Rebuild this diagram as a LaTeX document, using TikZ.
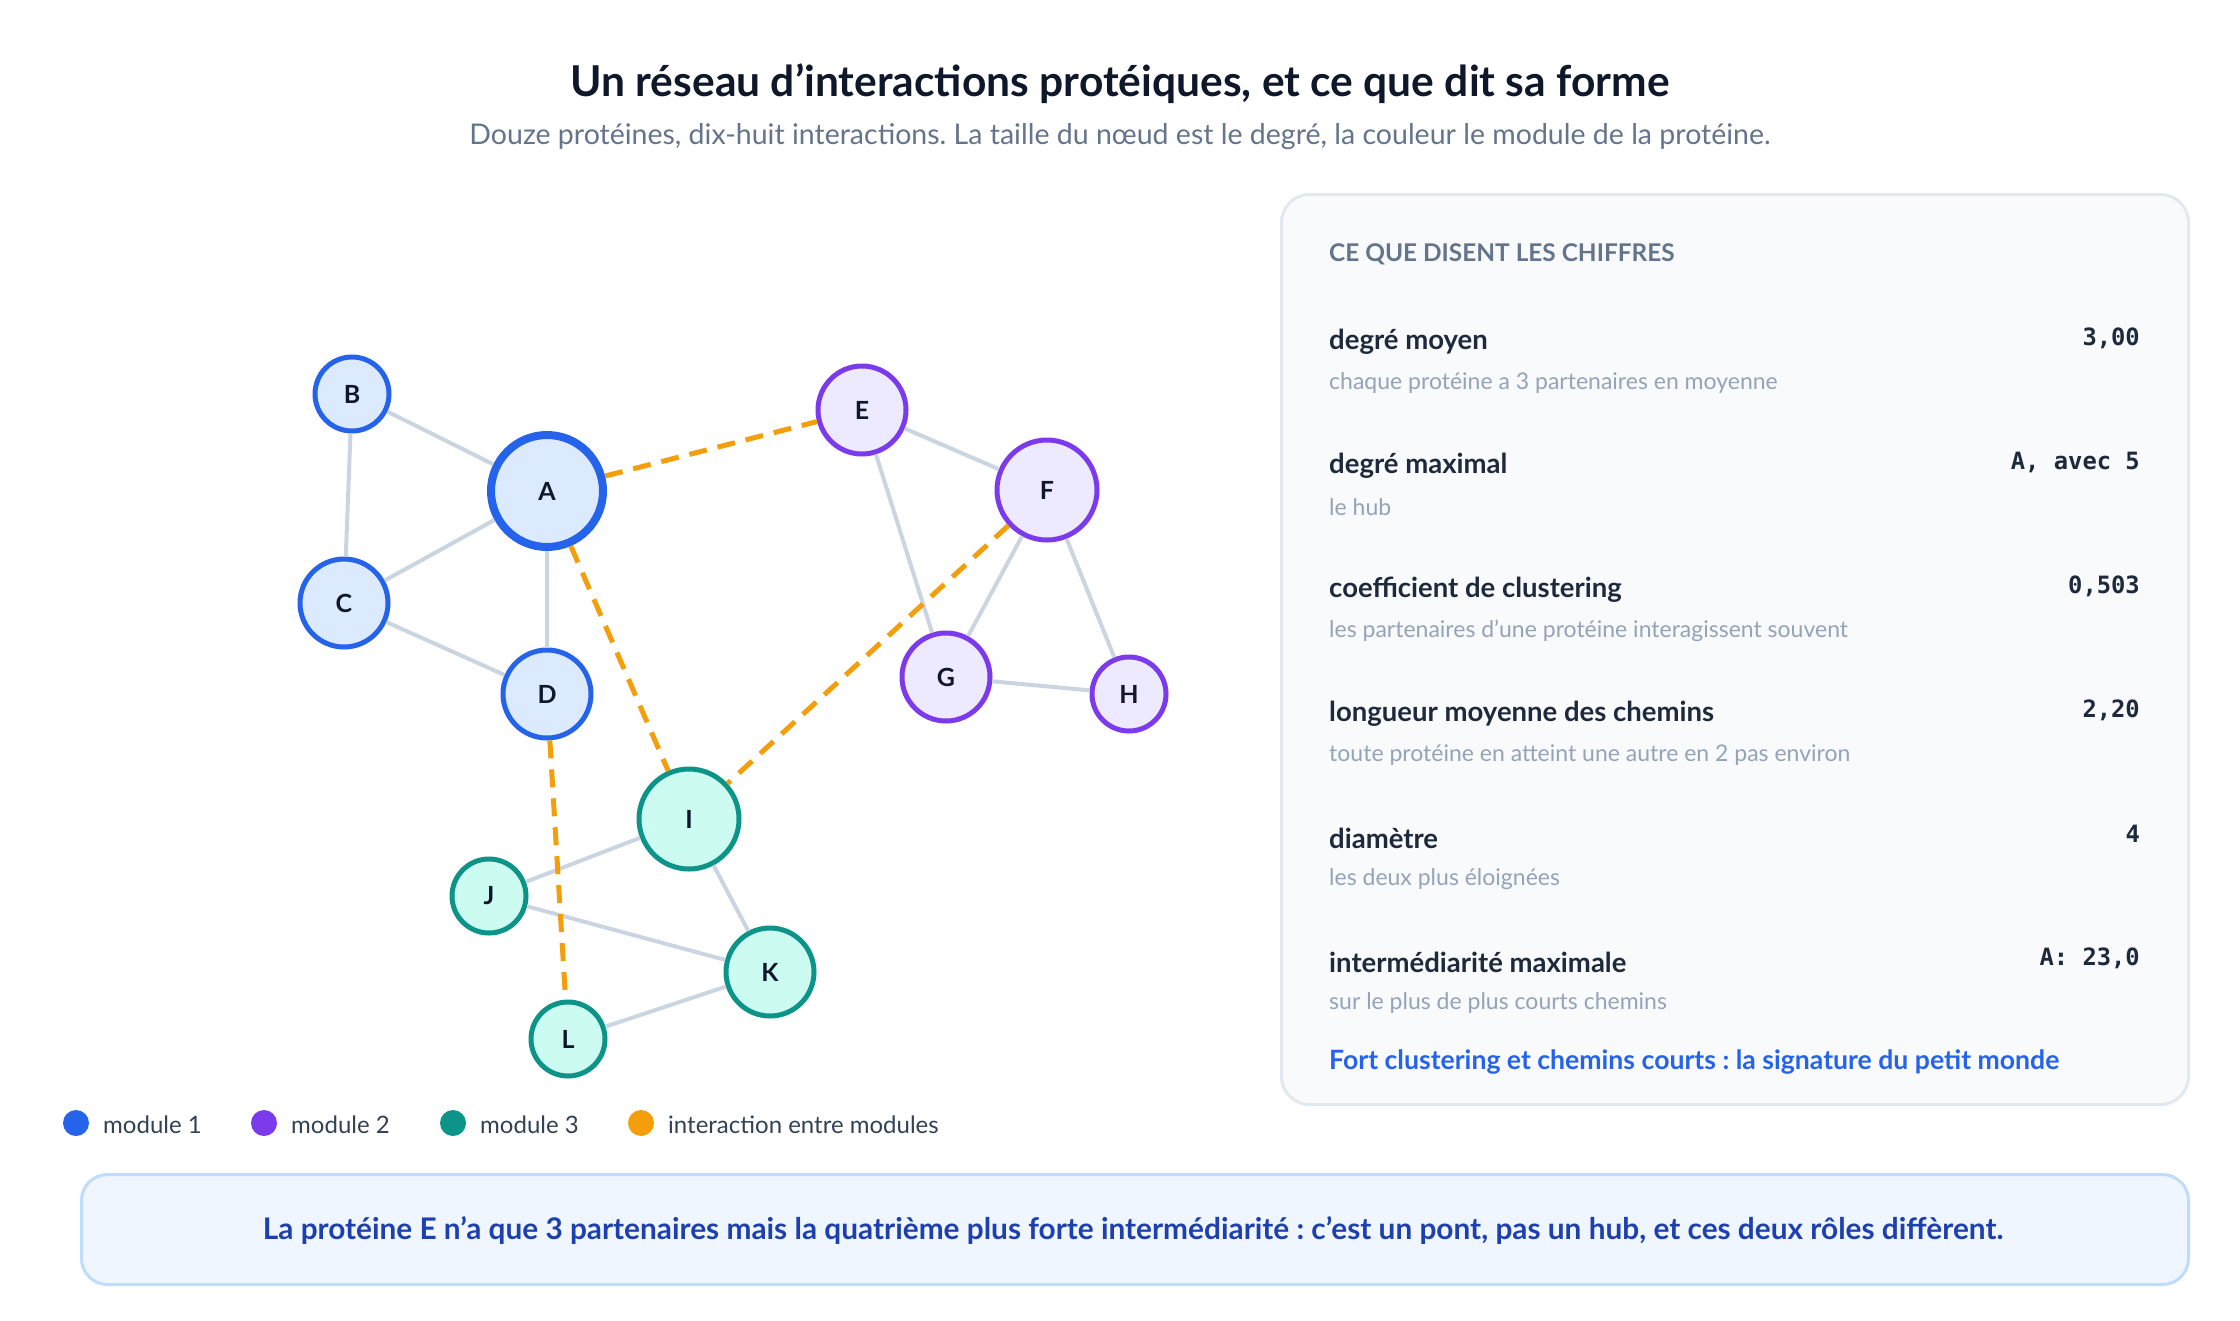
\documentclass[tikz,border=0pt]{standalone}
\usepackage{fontspec}
\setmainfont{Lato}
\newfontfamily\valfont{DejaVu Sans Mono}
\frenchspacing
\definecolor{titlec}{HTML}{0F172A}
\definecolor{subc}{HTML}{64748B}
\definecolor{mutec}{HTML}{94A3B8}
\definecolor{labc}{HTML}{1E293B}
\definecolor{legc}{HTML}{334155}
\definecolor{blueS}{HTML}{2563EB}
\definecolor{blueF}{HTML}{DBEAFE}
\definecolor{purS}{HTML}{7C3AED}
\definecolor{purF}{HTML}{EDE9FE}
\definecolor{tealS}{HTML}{0D9488}
\definecolor{tealF}{HTML}{CCFBF1}
\definecolor{orangeC}{HTML}{F59E0B}
\definecolor{edgeC}{HTML}{CBD5E1}
\definecolor{panelF}{HTML}{F8FAFC}
\definecolor{panelS}{HTML}{E2E8F0}
\definecolor{noteF}{HTML}{EFF6FF}
\definecolor{noteS}{HTML}{BFDBFE}
\definecolor{noteT}{HTML}{1E40AF}
\tikzset{
  prot/.style={circle, line width=5pt, inner sep=0pt, text=titlec,
    font=\fontsize{25}{29}\selectfont\bfseries},
  modA/.style={prot, draw=blueS, fill=blueF},
  modB/.style={prot, draw=purS, fill=purF},
  modC/.style={prot, draw=tealS, fill=tealF},
  intra/.style={draw=edgeC, line width=4pt},
  inter/.style={draw=orangeC, line width=5pt, dash pattern=on 18pt off 11pt},
  lab/.style={anchor=west, inner sep=0pt, text=labc, font=\fontsize{27.5}{32}\selectfont\bfseries},
  subl/.style={anchor=west, inner sep=0pt, text=mutec, font=\fontsize{23}{27}\selectfont},
  val/.style={anchor=east, inner sep=0pt, text=labc, font=\fontsize{23.8}{28}\selectfont\valfont\bfseries},
  legdot/.style={circle, inner sep=0pt, minimum size=26pt},
  legtxt/.style={anchor=west, inner sep=0pt, text=legc, font=\fontsize{24}{29}\selectfont},
}
\begin{document}
\begin{tikzpicture}[x=1pt,y=-1pt]
\useasboundingbox[fill=white] (0,0) rectangle (2240,1320);

% title
\node[text=titlec, font=\fontsize{42.5}{50}\selectfont\bfseries] (title) at (1120,84) {Un réseau d’interactions protéiques, et ce que dit sa forme};
\node[text=subc, font=\fontsize{28.5}{34}\selectfont] (subtitle) at (1120,137) {Douze protéines, dix-huit interactions. La taille du nœud est le degré, la couleur le module de la protéine.};

% nodes
\node[modA, minimum size=112pt, line width=8pt] (A) at (547,491) {A};
\node[modA, minimum size=74pt] (B) at (352,394) {B};
\node[modA, minimum size=88pt] (C) at (344,603) {C};
\node[modA, minimum size=88pt] (D) at (547,694) {D};
\node[modB, minimum size=88pt] (E) at (862,410) {E};
\node[modB, minimum size=100pt] (F) at (1047,490) {F};
\node[modB, minimum size=88pt] (G) at (946,677) {G};
\node[modB, minimum size=74pt] (H) at (1129,694) {H};
\node[modC, minimum size=100pt] (I) at (689,819) {I};
\node[modC, minimum size=74pt] (J) at (489,896) {J};
\node[modC, minimum size=88pt] (K) at (770,972) {K};
\node[modC, minimum size=74pt] (L) at (568,1039) {L};

% intra-module edges
\draw[intra] (B) -- (A);
\draw[intra] (B) -- (C);
\draw[intra] (A) -- (C);
\draw[intra] (A) -- (D);
\draw[intra] (C) -- (D);
\draw[intra] (E) -- (F);
\draw[intra] (E) -- (G);
\draw[intra] (F) -- (G);
\draw[intra] (F) -- (H);
\draw[intra] (G) -- (H);
\draw[intra] (I) -- (J);
\draw[intra] (I) -- (K);
\draw[intra] (J) -- (K);
\draw[intra] (K) -- (L);
% inter-module edges
\draw[inter] (A) -- (E);
\draw[inter] (A) -- (I);
\draw[inter] (F) -- (I);
\draw[inter] (D) -- (L);

% legend
\node[legdot, fill=blueS] (l1) at (76,1123) {};
\node[legtxt] (t1) at (103,1125) {module 1};
\node[legdot, fill=purS] (l2) at (264,1123) {};
\node[legtxt] (t2) at (291,1125) {module 2};
\node[legdot, fill=tealS] (l3) at (453,1123) {};
\node[legtxt] (t3) at (480,1125) {module 3};
\node[legdot, fill=orangeC] (l4) at (641,1123) {};
\node[legtxt] (t4) at (668,1125) {interaction entre modules};

% panel
\node[draw=panelS, fill=panelF, line width=3pt, rounded corners=28pt, anchor=north west,
  minimum width=907pt, minimum height=910pt, inner sep=0pt] (panel) at (1280,193) {};
\node[anchor=west, inner sep=0pt, text=subc, font=\fontsize{24.4}{29}\selectfont\bfseries] (ph) at (1329,254) {CE QUE DISENT LES CHIFFRES};

\node[lab] (r1) at (1329,342) {degré moyen};
\node[subl] (s1) at (1329,383) {chaque protéine a 3 partenaires en moyenne};
\node[val] (v1) at (2140,338) {3,00};

\node[lab] (r2) at (1329,466) {degré maximal};
\node[subl] (s2) at (1329,507) {le hub};
\node[val] (v2) at (2140,462) {A, avec 5};

\node[lab] (r3) at (1329,590) {coefficient de clustering};
\node[subl] (s3) at (1329,631) {les partenaires d’une protéine interagissent souvent};
\node[val] (v3) at (2140,586) {0,503};

\node[lab] (r4) at (1329,714) {longueur moyenne des chemins};
\node[subl] (s4) at (1329,755) {toute protéine en atteint une autre en 2 pas environ};
\node[val] (v4) at (2140,710) {2,20};

\node[lab] (r5) at (1329,838) {diamètre};
\node[subl] (s5) at (1329,879) {les deux plus éloignées};
\node[val] (v5) at (2140,834) {4};

\node[lab] (r6) at (1329,962) {intermédiarité maximale};
\node[subl] (s6) at (1329,1003) {sur le plus de plus courts chemins};
\node[val] (v6) at (2140,958) {A: 23,0};

\node[anchor=west, inner sep=0pt, text=blueS, font=\fontsize{26.6}{31}\selectfont\bfseries] (pf) at (1329,1062) {Fort clustering et chemins courts : la signature du petit monde};

% bottom note
\node[draw=noteS, fill=noteF, line width=3pt, rounded corners=26pt, anchor=north west,
  minimum width=2107pt, minimum height=110pt, inner sep=0pt] (note) at (80,1173) {};
\node[text=noteT, font=\fontsize{29.8}{35}\selectfont\bfseries] (notetxt) at (1133,1230) {La protéine E n’a que 3 partenaires mais la quatrième plus forte intermédiarité : c’est un pont, pas un hub, et ces deux rôles diffèrent.};
\end{tikzpicture}
\end{document}
